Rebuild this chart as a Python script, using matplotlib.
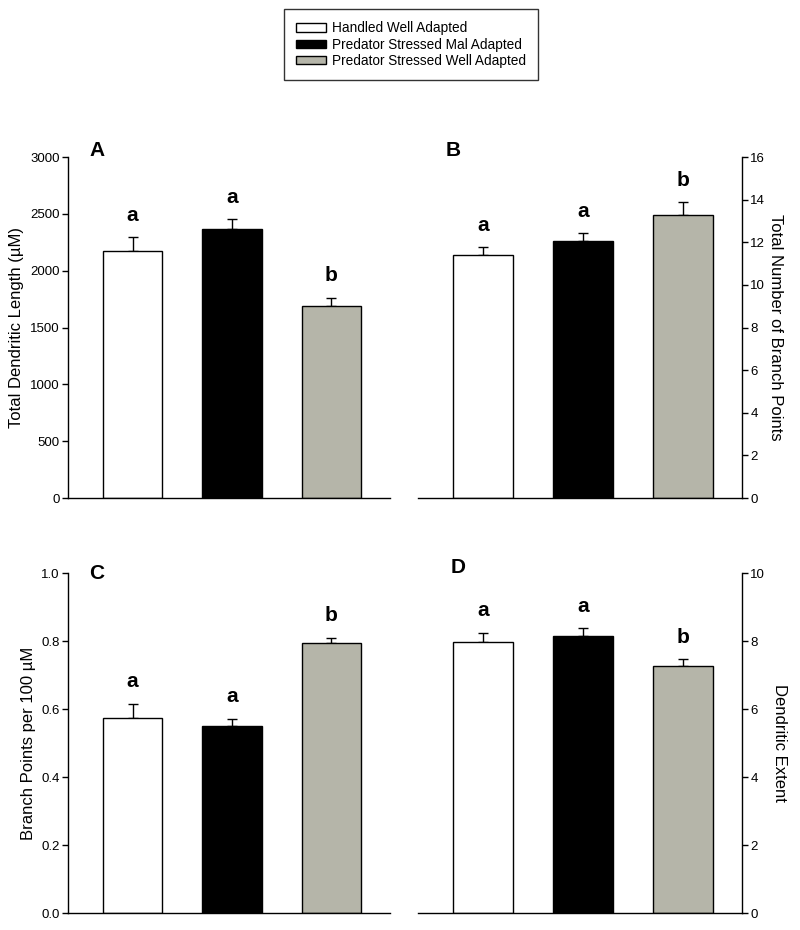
import numpy as np
import matplotlib.pyplot as plt
from matplotlib.patches import Patch

plt.rcParams['font.family'] = ['Liberation Sans', 'DejaVu Sans']

groups = ["Handled Well Adapted", "Predator Stressed Mal Adapted", "Predator Stressed Well Adapted"]
colors = ["white", "black", "#b5b5a9"]

length_mean = [2176, 2366, 1686]
length_sem = [117, 86, 74]
branch_mean = [11.39, 12.07, 13.29]
branch_sem = [0.37, 0.35, 0.58]
density_mean = [0.573, 0.549, 0.793]
density_sem = [0.042, 0.022, 0.017]
extent_mean = [7.96, 8.15, 7.26]
extent_sem = [0.29, 0.22, 0.21]

letters_a = ["a", "a", "b"]
letters_b = ["a", "a", "b"]
letters_c = ["a", "a", "b"]
letters_d = ["a", "a", "b"]

W, H = 800, 930


def px_axes(fig, left, top, right, bottom):
    return fig.add_axes([left / W, 1 - bottom / H, (right - left) / W, (bottom - top) / H])


def panel(ax, means, sems, letters, ymax, ystep, ylabel, tag, side, lpad):
    x = np.arange(1, 4)
    ax.bar(x, means, width=0.6, color=colors, edgecolor="black", linewidth=1.0, zorder=2)
    ax.errorbar(x, means, yerr=[np.zeros(3), sems], fmt="none", ecolor="black",
                elinewidth=1.0, capsize=3.5, capthick=1.0, zorder=1)
    for xi, m, s, lab in zip(x, means, sems, letters):
        ax.annotate(lab, (xi, m + s), xytext=(0, 9), textcoords="offset points",
                    ha="center", va="bottom", fontsize=15, fontweight="bold")
    ax.set_xlim(0.35, 3.59)
    ax.set_ylim(0, ymax)
    ticks = np.arange(0, ymax + ystep / 2, ystep)
    ax.set_yticks(ticks)
    if ystep < 1:
        ax.set_yticklabels(["%.1f" % v for v in ticks])
    ax.set_xticks([])
    ax.spines["top"].set_visible(False)
    if side == "left":
        ax.spines["right"].set_visible(False)
        ax.set_ylabel(ylabel, fontsize=12, labelpad=lpad)
    else:
        ax.spines["left"].set_visible(False)
        ax.yaxis.tick_right()
        ax.yaxis.set_label_position("right")
        ax.set_ylabel(ylabel, fontsize=12, rotation=270, labelpad=lpad)
    for sp in ax.spines.values():
        sp.set_linewidth(1.0)
    ax.tick_params(axis="y", direction="out", length=4.5, width=1.0, pad=1.5, labelsize=9.5)
    ax.text(0.09, 1.02, tag, transform=ax.transAxes, fontsize=15, fontweight="bold",
            ha="center", va="center")


fig = plt.figure(figsize=(W / 100, H / 100), dpi=100)

ax_a = px_axes(fig, 68, 157, 390, 498)
ax_b = px_axes(fig, 418, 157, 742, 498)
ax_c = px_axes(fig, 68, 573, 390, 913)
ax_d = px_axes(fig, 418, 573, 742, 913)

panel(ax_a, length_mean, length_sem, letters_a, 3000, 500, "Total Dendritic Length (\u00b5M)", "A", "left", 4)
panel(ax_b, branch_mean, branch_sem, letters_b, 16, 2, "Total Number of Branch Points", "B", "right", 13)
panel(ax_c, density_mean, density_sem, letters_c, 1.0, 0.2, "Branch Points per 100 \u00b5M", "C", "left", 4)
panel(ax_d, extent_mean, extent_sem, letters_d, 10, 2, "Dendritic Extent", "D", "right", 16)
ax_b.texts[-1].set_position((0.11, 1.02))
ax_d.texts[-1].set_position((0.125, 1.015))
ax_c.texts[-1].set_position((0.09, 1.0))

handles = [Patch(facecolor=c, edgecolor="black", linewidth=1.0) for c in colors]
leg = fig.legend(handles, groups, loc="upper center", bbox_to_anchor=(0.514, 1 - 9 / H),
                 fontsize=9.8, frameon=True, fancybox=False, edgecolor="black",
                 handlelength=2.2, handleheight=0.55, labelspacing=0.17,
                 borderpad=0.9, handletextpad=0.45, borderaxespad=0)
leg.get_frame().set_linewidth(1.0)

fig.savefig("out.png", dpi=100)
